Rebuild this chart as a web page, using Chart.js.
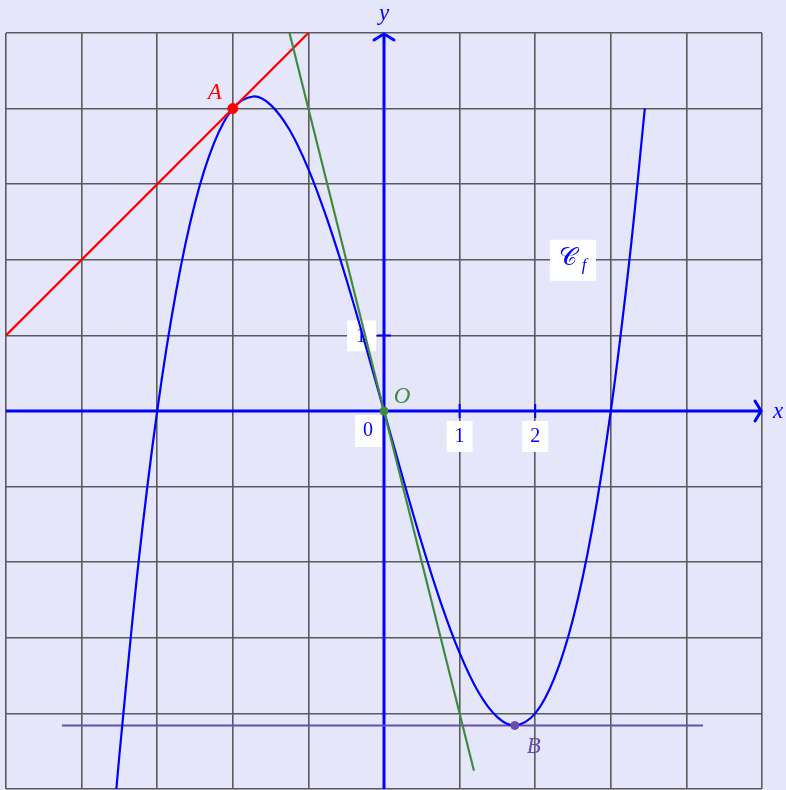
<!DOCTYPE html>
<html lang="fr">
<head>
  <meta charset="UTF-8" />
  <title>Courbe Cf</title>
  <script src="https://cdn.jsdelivr.net/npm/chart.js"></script>
  <style>
    html, body { margin: 0; padding: 0; background: #e6e6fa; }
    canvas { display: block; }
  </style>
</head>
<body>
  <canvas id="courbe" width="786" height="790"></canvas>

  <script>
    const courbeX = [-3.54, -3.5, -3.25, -3, -2.75, -2.5, -2.25, -2, -1.73, -1.5, -1.25, -1, -0.75, -0.5, -0.25,
                     0, 0.25, 0.5, 0.75, 1, 1.25, 1.5, 1.73, 2, 2.25, 2.5, 2.75, 3, 3.25, 3.45];
    const courbeY = [-5.0, -4.55, -2.03, 0, 1.58, 2.75, 3.54, 4.0, 4.16, 4.05, 3.72, 3.2, 2.53, 1.75, 0.89,
                     0, -0.89, -1.75, -2.53, -3.2, -3.72, -4.05, -4.16, -4.0, -3.54, -2.75, -1.58, 0, 2.03, 4.0];

    // droites
    const droiteRougeX = [-5, -1];
    const droiteRougeY = [1, 5];
    const droiteVerteX = [-1.25, 1.19];
    const droiteVerteY = [5, -4.76];
    const droiteVioletteX = [-4.26, 4.22];
    const droiteVioletteY = [-4.16, -4.16];

    // points nommés
    const pointA = [-2, 4];
    const pointO = [0, 0];
    const pointB = [1.73, -4.16];

    // graduations
    const gradX = [1, 2];
    const gradY = [1];

    const bleu = '#0000ff';
    const rouge = '#ff0000';
    const vert = '#3f8a3f';
    const violet = '#654fae';

    function paires(xs, ys) {
      return xs.map((x, i) => ({ x: x, y: ys[i] }));
    }

    function fleche(ctx, x, y, dir) {
      // pointe courbée façon tikz
      ctx.save();
      ctx.translate(x, y);
      ctx.rotate(dir);
      ctx.beginPath();
      ctx.moveTo(-6, -10);
      ctx.quadraticCurveTo(-1, -2, 0, 0);
      ctx.quadraticCurveTo(-1, 2, -6, 10);
      ctx.stroke();
      ctx.restore();
    }

    function boite(ctx, x, y, w, h) {
      ctx.fillStyle = '#ffffff';
      ctx.fillRect(x, y, w, h);
    }

    const decor = {
      id: 'decor',
      beforeDraw(chart) {
        const ctx = chart.ctx;
        ctx.save();
        ctx.fillStyle = '#e6e6fa';
        ctx.fillRect(0, 0, chart.width, chart.height);
        ctx.restore();
      },
      beforeDatasetsDraw(chart) {
        const ctx = chart.ctx;
        const xs = chart.scales.x, ys = chart.scales.y;
        const ox = xs.getPixelForValue(0), oy = ys.getPixelForValue(0);
        const area = chart.chartArea;
        ctx.save();

        // étiquettes blanches
        ctx.font = '20px "Liberation Serif"';
        ctx.textAlign = 'center';
        ctx.textBaseline = 'middle';
        gradX.forEach(v => {
          const px = xs.getPixelForValue(v);
          boite(ctx, px - 13, oy + 10, 26, 31);
          ctx.fillStyle = bleu;
          ctx.fillText(String(v), px, oy + 26);
        });
        gradY.forEach(v => {
          const py = ys.getPixelForValue(v);
          boite(ctx, ox - 37, py - 15, 29, 31);
          ctx.fillStyle = bleu;
          ctx.fillText(String(v), ox - 23, py + 1);
        });
        boite(ctx, ox - 29, oy + 4, 27, 32);
        ctx.fillStyle = bleu;
        ctx.fillText('0', ox - 16, oy + 20);

        // Cf
        const cfx = xs.getPixelForValue(2.5), cfy = ys.getPixelForValue(2);
        boite(ctx, cfx - 23, cfy - 20, 46, 41);
        ctx.fillStyle = bleu;
        ctx.font = '25px "DejaVu Serif"';
        ctx.fillText('\u{1D49E}', cfx - 5, cfy - 1);
        ctx.font = 'italic 17px "Liberation Serif"';
        ctx.fillText('f', cfx + 11, cfy + 6);

        // axes
        ctx.strokeStyle = bleu;
        ctx.lineWidth = 3;
        ctx.beginPath();
        ctx.moveTo(area.left, oy);
        ctx.lineTo(area.right - 1, oy);
        ctx.moveTo(ox, area.bottom);
        ctx.lineTo(ox, area.top + 1);
        ctx.stroke();
        ctx.lineCap = 'round';
        fleche(ctx, area.right - 1, oy, 0);
        fleche(ctx, ox, area.top + 1, -Math.PI / 2);

        ctx.lineCap = 'butt';
        ctx.lineWidth = 2;
        ctx.beginPath();
        gradX.forEach(v => {
          const px = xs.getPixelForValue(v);
          ctx.moveTo(px, oy - 7);
          ctx.lineTo(px, oy + 7);
        });
        gradY.forEach(v => {
          const py = ys.getPixelForValue(v);
          ctx.moveTo(ox - 7, py);
          ctx.lineTo(ox + 7, py);
        });
        ctx.stroke();

        // noms des axes
        ctx.fillStyle = bleu;
        ctx.font = 'italic 23px "Liberation Serif"';
        ctx.fillText('x', area.right + 16, oy + 1);
        ctx.fillText('y', ox, 14);
        ctx.restore();
      },
      afterDatasetsDraw(chart) {
        const ctx = chart.ctx;
        const xs = chart.scales.x, ys = chart.scales.y;
        ctx.save();
        ctx.font = 'italic 23px "Liberation Serif"';
        ctx.textAlign = 'center';
        ctx.textBaseline = 'middle';
        ctx.fillStyle = rouge;
        ctx.fillText('A', xs.getPixelForValue(pointA[0]) - 18, ys.getPixelForValue(pointA[1]) - 16);
        ctx.fillStyle = vert;
        ctx.fillText('O', xs.getPixelForValue(pointO[0]) + 18, ys.getPixelForValue(pointO[1]) - 14);
        ctx.fillStyle = violet;
        ctx.fillText('B', xs.getPixelForValue(pointB[0]) + 19, ys.getPixelForValue(pointB[1]) + 21);
        ctx.restore();
      }
    };

    const ligne = (donnees, couleur, ordre, tension) => ({
      data: donnees,
      showLine: true,
      borderColor: couleur,
      borderWidth: 2.2,
      pointRadius: 0,
      tension: tension || 0,
      order: ordre
    });

    const point = (p, couleur, r) => ({
      data: [{ x: p[0], y: p[1] }],
      backgroundColor: couleur,
      borderColor: couleur,
      pointRadius: r,
      order: 0
    });

    new Chart(document.getElementById('courbe'), {
      type: 'scatter',
      data: {
        datasets: [
          point(pointA, rouge, 5),
          point(pointO, vert, 4),
          point(pointB, violet, 4),
          ligne(paires(droiteVerteX, droiteVerteY), vert, 1),
          ligne(paires(droiteRougeX, droiteRougeY), rouge, 2),
          ligne(paires(courbeX, courbeY), bleu, 3, 0.35),
          ligne(paires(droiteVioletteX, droiteVioletteY), violet, 4)
        ]
      },
      options: {
        responsive: false,
        animation: false,
        layout: { autoPadding: false, padding: { left: 6, right: 24, top: 33, bottom: 1 } },
        scales: {
          x: {
            type: 'linear', min: -5, max: 5,
            ticks: { display: false, stepSize: 1, padding: 0 },
            grid: { color: '#5a5a5a', lineWidth: 1.6, drawTicks: false },
            border: { display: false },
            afterFit: s => { s.height = 0; }
          },
          y: {
            type: 'linear', min: -5, max: 5,
            ticks: { display: false, stepSize: 1, padding: 0 },
            grid: { color: '#5a5a5a', lineWidth: 1.6, drawTicks: false },
            border: { display: false },
            afterFit: s => { s.width = 0; }
          }
        },
        plugins: {
          legend: { display: false },
          tooltip: { enabled: false }
        }
      },
      plugins: [decor]
    });
  </script>
</body>
</html>
